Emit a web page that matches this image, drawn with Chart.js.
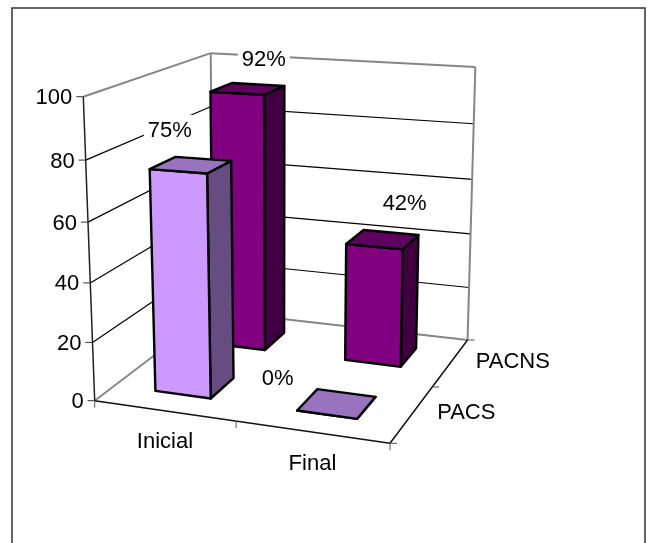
<!DOCTYPE html>
<html>
<head>
<meta charset="utf-8">
<style>
  html, body { margin: 0; padding: 0; background: #FFFFFF; overflow: hidden; }
  canvas { display: block; }
</style>
<script src="https://cdn.jsdelivr.net/npm/chart.js@4"></script>
</head>
<body>
<canvas id="grafico" width="647" height="543"></canvas>
<script>
const categories = ['Inicial', 'Final'];
const seriesNames = ['PACS', 'PACNS'];
const pacsValues = [75, 0];
const pacnsValues = [92, 42];
const valueTicks = { min: 0, max: 100, stepSize: 20 };

// cores: frente, lado, topo
const pacsColors = ['#CC99FF', '#664C80', '#9973BF'];
const pacnsColors = ['#800080', '#400040', '#600060'];

// caixa 3D vista na imagem
const E = { x: 94.7, y: 400.7 };   // frente, embaixo, esquerda
const F = { x: 390, y: 443.3 };    // frente, embaixo, direita
const A = { x: 83.3, y: 96.7 };    // frente, topo, esquerda
const G = { x: 212.5, y: 311 };    // fundo, embaixo, esquerda
const persp = { a: -0.0805, b: -0.051, c: 0.1823 };

// deslocamento de cada rotulo em relacao ao topo da barra [dataset][categoria]
const labelShift = [
    [[-21, -36], [-59, -26]],
    [[16, -30], [22, -37]]
];

function project(u, v, w) {
    const d = 1 + u * persp.a + v * persp.b + w * persp.c;
    const calc = k => (E[k]
        + u * (F[k] * (1 + persp.a) - E[k])
        + v * (A[k] * (1 + persp.b) - E[k])
        + w * (G[k] * (1 + persp.c) - E[k])) / d;
    // pequeno ajuste do fundo, a parede da imagem nao fecha exata
    return [
        calc('x') + 2.5 * (1 - u) * v * w,
        calc('y') + (4.5 * u + 1.2 * (1 - u)) * v * w
    ];
}

function line(ctx, a, b, color, width) {
    ctx.beginPath();
    ctx.moveTo(a[0], a[1]);
    ctx.lineTo(b[0], b[1]);
    ctx.strokeStyle = color;
    ctx.lineWidth = width;
    ctx.stroke();
}

function face(ctx, pts, color) {
    ctx.beginPath();
    ctx.moveTo(pts[0][0], pts[0][1]);
    pts.slice(1).forEach(p => ctx.lineTo(p[0], p[1]));
    ctx.closePath();
    ctx.fillStyle = color;
    ctx.fill();
    ctx.strokeStyle = '#000000';
    ctx.lineWidth = 2.4;
    ctx.lineJoin = 'round';
    ctx.stroke();
}

const cubePlugin = {
    id: 'cube3d',
    beforeDatasetDraw() {
        return false;
    },
    afterDraw(chart) {
        const { ctx, chartArea, scales } = chart;
        const toU = px => (px - chartArea.left) / chartArea.width;
        const toV = py => (chartArea.bottom - py) / chartArea.height;
        const toW = px => (px - scales.z.left) / scales.z.width;

        ctx.save();
        ctx.font = '22px "Liberation Sans"';
        ctx.fillStyle = '#000000';

        // moldura
        ctx.strokeStyle = '#333333';
        ctx.lineWidth = 1.5;
        ctx.strokeRect(12, 8, 633, 560);

        // grades
        scales.y.ticks.forEach(t => {
            const v = toV(scales.y.getPixelForValue(t.value));
            if (v > 0 && v < 1) {
                line(ctx, project(0, v, 0), project(0, v, 1), '#000000', 1.2);
                line(ctx, project(0, v, 1), project(1, v, 1), '#000000', 1.2);
            }
        });

        // paredes e chao
        const gray = '#868686';
        line(ctx, project(0, 1, 0), project(0, 1, 1), gray, 2);
        line(ctx, project(0, 1, 1), project(1, 1, 1), gray, 2);
        line(ctx, project(1, 1, 1), project(1, 0, 1), gray, 2);
        line(ctx, project(0, 1, 1), project(0, 0, 1), gray, 2);
        line(ctx, project(0, 0, 0), project(0, 0, 1), gray, 2);
        line(ctx, project(0, 0, 1), project(1, 0, 1), gray, 2);

        // eixos
        line(ctx, project(0, 0, 0), project(0, 1, 0), '#222222', 1.5);
        line(ctx, project(0, 0, 0), project(1, 0, 0), '#111111', 1.5);
        line(ctx, project(1, 0, 0), project(1, 0, 1), '#111111', 1.5);

        // eixo de valores
        ctx.textBaseline = 'middle';
        ctx.textAlign = 'right';
        scales.y.ticks.forEach(t => {
            const p = project(0, toV(scales.y.getPixelForValue(t.value)), 0);
            line(ctx, p, [p[0] - 7, p[1]], '#333333', 1);
            ctx.fillStyle = '#000000';
            ctx.fillText(t.label, p[0] - 11, p[1] + 1.5);
        });

        // eixo de categorias
        ctx.textAlign = 'center';
        [0, 0.5, 1].forEach(u => {
            const p = project(u, 0, 0);
            line(ctx, p, [p[0], p[1] + 7], '#555555', 1);
        });
        categories.forEach((name, i) => {
            const p = project(toU(scales.x.getPixelForValue(i)), 0, 0);
            ctx.fillStyle = '#000000';
            ctx.fillText(name, p[0] + 1, p[1] + 31.5);
        });

        // eixo das series
        ctx.textAlign = 'left';
        [0, 0.5, 1].forEach(w => {
            const p = project(1, 0, w);
            line(ctx, p, [p[0] + 7, p[1]], '#555555', 1);
        });
        seriesNames.forEach((name, i) => {
            const p = project(1, 0, toW(scales.z.getPixelForValue(i)));
            ctx.fillStyle = '#000000';
            ctx.fillText(name, p[0] + 25, p[1] - 0.5);
        });

        // barras, do fundo para a frente
        const labels = [];
        [1, 0].forEach(di => {
            const meta = chart.getDatasetMeta(di);
            const colors = chart.data.datasets[di].faceColors;
            const wc = toW(scales.z.getPixelForValue(di));
            meta.data.forEach((bar, i) => {
                const half = bar.width / 2;
                const u0 = toU(bar.x - half);
                const u1 = toU(bar.x + half);
                const v1 = toV(bar.y);
                const depth = half / chartArea.width;
                const w0 = wc - depth;
                const w1 = wc + depth;
                face(ctx, [project(u1, 0, w0), project(u1, 0, w1), project(u1, v1, w1), project(u1, v1, w0)], colors[1]);
                face(ctx, [project(u0, 0, w0), project(u1, 0, w0), project(u1, v1, w0), project(u0, v1, w0)], colors[0]);
                face(ctx, [project(u0, v1, w0), project(u1, v1, w0), project(u1, v1, w1), project(u0, v1, w1)], colors[2]);
                const top = project((u0 + u1) / 2, v1, wc);
                labels.push({
                    text: chart.data.datasets[di].data[i] + '%',
                    x: top[0] + labelShift[di][i][0],
                    y: top[1] + labelShift[di][i][1]
                });
            });
        });

        // rotulos com fundo branco
        ctx.textAlign = 'center';
        labels.forEach(l => {
            const tw = ctx.measureText(l.text).width;
            ctx.fillStyle = '#FFFFFF';
            ctx.fillRect(l.x - tw / 2 - 4, l.y - 14, tw + 8, 28);
            ctx.fillStyle = '#000000';
            ctx.fillText(l.text, l.x, l.y + 1.5);
        });
        ctx.restore();
    }
};

new Chart(document.getElementById('grafico'), {
    type: 'bar',
    data: {
        labels: categories,
        datasets: [
            { label: seriesNames[0], data: pacsValues, backgroundColor: pacsColors[0], faceColors: pacsColors },
            { label: seriesNames[1], data: pacnsValues, backgroundColor: pacnsColors[0], faceColors: pacnsColors }
        ]
    },
    options: {
        responsive: false,
        animation: false,
        grouped: false,
        categoryPercentage: 0.4,
        barPercentage: 1,
        layout: { padding: 0 },
        plugins: {
            legend: { display: false },
            tooltip: { enabled: false }
        },
        scales: {
            x: { display: false, offset: true },
            z: { type: 'category', axis: 'x', labels: seriesNames, offset: true, display: false },
            y: {
                display: false,
                min: valueTicks.min,
                max: valueTicks.max,
                ticks: { stepSize: valueTicks.stepSize }
            }
        }
    },
    plugins: [cubePlugin]
});
</script>
</body>
</html>
